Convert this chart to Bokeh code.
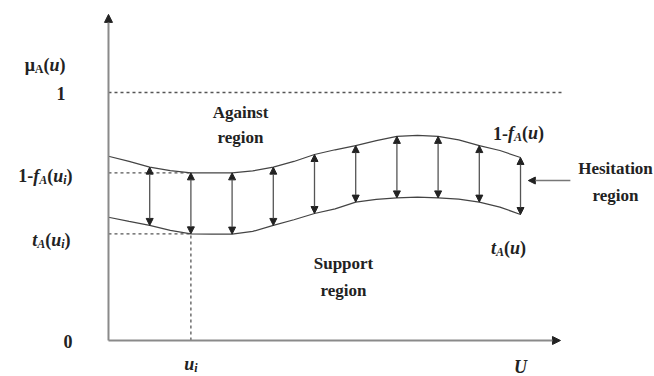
from bokeh.plotting import figure
from bokeh.models import Arrow, NormalHead, ColumnDataSource, Range1d
from bokeh.embed import file_html
from bokeh.resources import INLINE
from bokeh.core.properties import value

# ---- data ----
u = [0, 0.5, 1, 1.5, 2, 2.5, 3, 3.5, 4, 4.5, 5, 5.5, 6, 6.5, 7, 7.5, 8, 8.5, 9, 9.5, 10]
upper = [0.743, 0.722, 0.699, 0.685, 0.676, 0.676, 0.676, 0.684, 0.699, 0.722, 0.750,
         0.769, 0.786, 0.806, 0.823, 0.827, 0.823, 0.809, 0.786, 0.766, 0.738]   # 1 - f_A(u)
lower = [0.497, 0.480, 0.464, 0.444, 0.430, 0.429, 0.429, 0.440, 0.464, 0.487, 0.512,
         0.531, 0.558, 0.569, 0.575, 0.578, 0.575, 0.570, 0.558, 0.538, 0.508]   # t_A(u)
arrow_idx = [2, 4, 6, 8, 10, 12, 14, 16, 18, 20]
u_i_idx = 4
x_axis_end = 10.97
y_axis_end = 1.315
one_line_end = 11.05
region_labels = ["Against", "region", "Support", "region", "Hesitation", "region"]

FONT = "Liberation Serif"
INK = "#222222"

p = figure(width=654, height=376,
           x_range=Range1d(-2.621, 13.252), y_range=Range1d(-0.1452, 1.371),
           x_axis_type=None, y_axis_type=None,
           output_backend="svg", toolbar_location=None, min_border=0)
p.grid.visible = False
p.outline_line_color = None

# ---- axes ----
p.add_layout(Arrow(end=NormalHead(size=8, fill_color=INK, line_color=INK),
                   x_start=0, y_start=0, x_end=0, y_end=y_axis_end,
                   line_color="#8a8a8a", line_width=2))
p.add_layout(Arrow(end=NormalHead(size=8, fill_color=INK, line_color=INK),
                   x_start=0, y_start=0, x_end=x_axis_end, y_end=0,
                   line_color="#8a8a8a", line_width=2))

# ---- dotted reference lines ----
ui = u[u_i_idx]
DOT = dict(line_dash="3 3", line_color="#555555", line_width=1.3)
p.line([0, one_line_end], [1, 1], **DOT)
p.line([0, ui], [upper[u_i_idx]] * 2, **DOT)
p.line([0, ui], [lower[u_i_idx]] * 2, **DOT)
p.line([ui, ui], [0, lower[u_i_idx]], **DOT)

# ---- curves ----
p.line(u, upper, line_color="#444444", line_width=1.2)
p.line(u, lower, line_color="#444444", line_width=1.2)

# ---- double-headed arrows between curves ----
src = ColumnDataSource(dict(x=[u[k] for k in arrow_idx],
                            y0=[lower[k] for k in arrow_idx],
                            y1=[upper[k] for k in arrow_idx]))
p.add_layout(Arrow(start=NormalHead(size=7, fill_color=INK, line_color=INK),
                   end=NormalHead(size=7, fill_color=INK, line_color=INK),
                   x_start="x", y_start="y0", x_end="x", y_end="y1",
                   source=src, line_color="#555555", line_width=1.3))

# ---- hesitation pointer ----
p.add_layout(Arrow(end=NormalHead(size=7, fill_color=INK, line_color=INK),
                   x_start=11.21, y_start=0.645, x_end=10.19, y_end=0.645,
                   line_color="#777777", line_width=1.5))

# ---- rich text helper (main + subscripts) ----
WB = {'1': .5, '-': .333, '(': .333, ')': .333, '0': .5, 'μ': .56, 'A': .722}
WBI = {'f': .333, 'u': .556, 't': .278, 'i': .278, 'A': .667, 'U': .722}
MAIN, SUB = 18, 12


def rich(x, y, parts, align="left", dx=0, dy=0):
    items = []
    for t, kind in parts:
        sub = kind.startswith("s")
        ital = kind.endswith("i")
        size = SUB if sub else MAIN
        table = WBI if ital else WB
        w = size * sum(table.get(c, .5) for c in t)
        items.append((t, sub, ital, size, w))
    total = sum(it[4] for it in items)
    off = dx - (total if align == "right" else total / 2 if align == "center" else 0)
    for t, sub, ital, size, w in items:
        p.text(x=[x], y=[y], text=[t], x_offset=off, y_offset=dy + (4 if sub else 0),
               text_align="left", text_baseline="alphabetic",
               text_font=value(FONT), text_font_size=f"{size}px",
               text_font_style="bold italic" if ital else "bold", text_color=INK)
        off += w


LX = -0.922
rich(LX, 1.125, [("μ", "b"), ("A", "sb"), ("(", "b"), ("u", "i"), (")", "b")], "right", dx=-5, dy=3)
rich(LX, 1, [("1", "b")], "right", dx=-5, dy=1)
rich(LX, upper[u_i_idx], [("1-", "b"), ("f", "i"), ("A", "si"), ("(", "b"), ("u", "i"), ("i", "si"), (")", "b")],
     "right", dx=2, dy=3)
rich(LX, lower[u_i_idx], [("t", "i"), ("A", "si"), ("(", "b"), ("u", "i"), ("i", "si"), (")", "b")],
     "right", dx=0, dy=6)
rich(LX, 0, [("0", "b")], "right", dx=2, dy=1)
rich(ui, 0, [("u", "i"), ("i", "si")], "center", dy=24)
rich(u[-1], 0, [("U", "i")], "center", dy=27)
rich(u[-1], upper[-1], [("1-", "b"), ("f", "i"), ("A", "si"), ("(", "b"), ("u", "i"), (")", "b")],
     "center", dx=-2, dy=-24)
rich(u[-1], lower[-1], [("t", "i"), ("A", "si"), ("(", "b"), ("u", "i"), (")", "b")],
     "center", dx=-12, dy=33)

# ---- region labels ----
region_x = [3.204, 3.204, 5.704, 5.704, 12.306, 12.306]
region_y = [0.919, 0.819, 0.310, 0.202, 0.694, 0.585]
rsrc = ColumnDataSource(dict(x=region_x, y=region_y, t=region_labels))
p.text(x="x", y="y", text="t", source=rsrc, text_align="center", text_baseline="middle",
       text_font=value(FONT), text_font_size="17px", text_font_style="bold", text_color=INK)

open("out.html", "w").write(file_html(p, INLINE))
